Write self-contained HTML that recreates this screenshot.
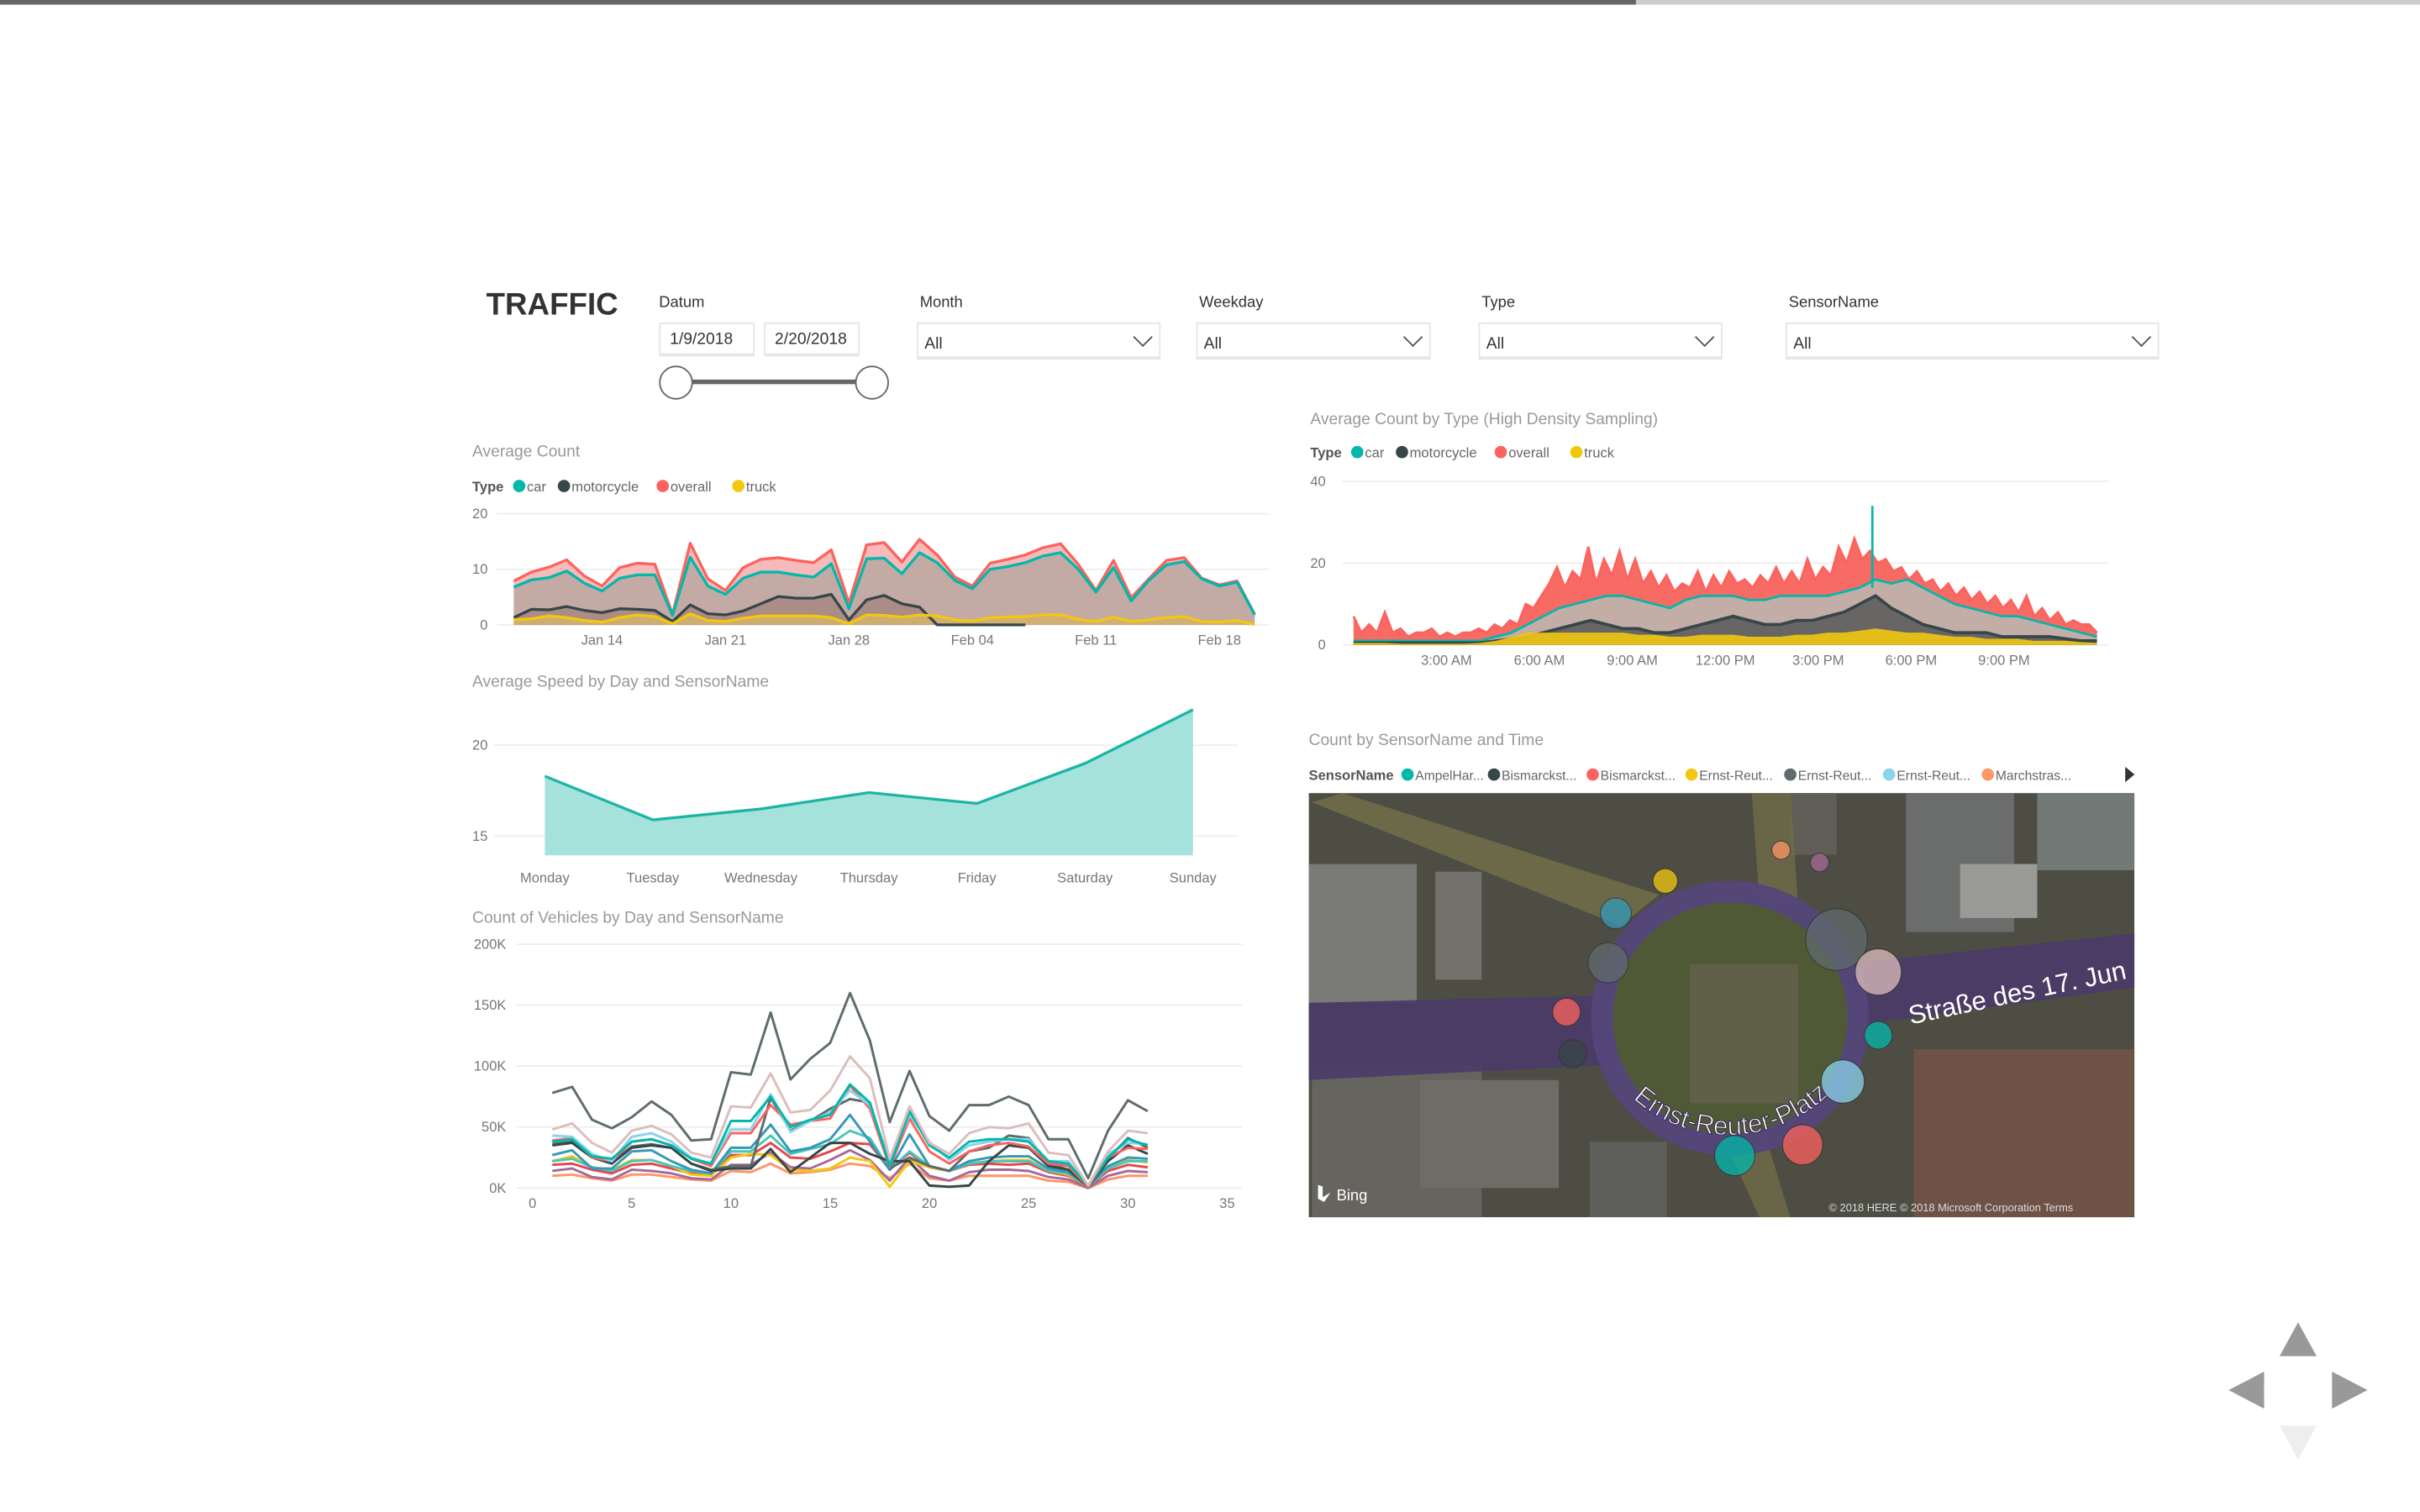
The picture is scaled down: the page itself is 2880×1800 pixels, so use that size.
<!DOCTYPE html>
<html><head><meta charset="utf-8">
<style>
html,body{margin:0;padding:0;width:2880px;height:1800px;overflow:hidden;background:#fff;}
#page{position:absolute;left:0;top:0;width:1568px;height:980px;transform:scale(1.836735);transform-origin:0 0;font-family:"Liberation Sans",sans-serif;}
.abs{position:absolute;}
.lbl{font-size:10px;color:#333;}
.box{position:absolute;border:1px solid #e6e6e6;border-bottom:2px solid #e6e6e6;background:#fff;font-size:10.5px;color:#333;box-sizing:border-box;}
.chev{position:absolute;right:6px;top:4px;width:8px;height:8px;border-right:1px solid #555;border-bottom:1px solid #555;transform:rotate(45deg);}
</style></head>
<body>
<div id="page">
 <div class="abs" style="left:0;top:0;width:1060px;height:3px;background:#666"></div>
 <div class="abs" style="left:1060px;top:0;width:508px;height:3px;background:#ccc"></div>

 <div class="abs" style="left:315px;top:187px;font-size:20px;font-weight:bold;color:#333">TRAFFIC</div>

 <div class="abs lbl" style="left:427px;top:191px">Datum</div>
 <div class="box" style="left:427px;top:209px;width:62px;height:22px;padding:4px 0 0 6px">1/9/2018</div>
 <div class="box" style="left:495px;top:209px;width:62px;height:22px;padding:4px 0 0 6px">2/20/2018</div>
 <div class="abs" style="left:438px;top:246px;width:127px;height:3px;background:#666"></div>
 <div class="abs" style="left:427px;top:237px;width:20px;height:20px;border:1px solid #666;border-radius:50%;background:#fff"></div>
 <div class="abs" style="left:554px;top:237px;width:20px;height:20px;border:1px solid #666;border-radius:50%;background:#fff"></div>

 <div class="abs lbl" style="left:596px;top:191px">Month</div>
 <div class="box" style="left:594px;top:209px;width:158px;height:24px;padding:7px 0 0 4px">All<span class="chev"></span></div>
 <div class="abs lbl" style="left:777px;top:191px">Weekday</div>
 <div class="box" style="left:775px;top:209px;width:152px;height:24px;padding:7px 0 0 4px">All<span class="chev"></span></div>
 <div class="abs lbl" style="left:960px;top:191px">Type</div>
 <div class="box" style="left:958px;top:209px;width:158px;height:24px;padding:7px 0 0 4px">All<span class="chev"></span></div>
 <div class="abs lbl" style="left:1159px;top:191px">SensorName</div>
 <div class="box" style="left:1157px;top:209px;width:242px;height:24px;padding:7px 0 0 4px">All<span class="chev"></span></div>

 <svg id="main" class="abs" style="left:0;top:0" width="1568" height="980" viewBox="0 0 1568 980" font-family="Liberation Sans, sans-serif"></svg>
</div>
<script>
// ---- Average Count (daily, Jan 9 .. Feb 20) ----
const avgDates = ['Jan 14','Jan 21','Jan 28','Feb 04','Feb 11','Feb 18'];
const avgDateIdx = [5,12,19,26,33,40];
const avgOverall = [7.9,9.5,10.4,11.7,8.8,7.0,10.3,11.1,10.9,1.9,14.7,8.3,6.2,10.3,11.8,12.1,11.6,11.2,13.5,3.9,14.4,14.8,11.3,15.4,12.6,8.6,7.0,11.1,11.8,12.6,13.9,14.6,10.9,6.2,11.6,4.9,8.3,11.6,12.1,8.4,7.2,7.9,1.9];
const avgCar = [6.8,8.1,8.5,9.7,7.5,6.1,8.4,9.0,9.0,1.7,12.2,7.0,5.5,8.4,9.5,9.5,9.0,8.6,11.0,2.9,11.9,12.0,9.2,13.0,11.2,8.0,6.5,10.0,10.5,11.2,12.4,13.0,10.0,5.9,10.3,4.3,8.0,10.8,11.4,8.3,7.0,7.7,1.8];
const avgMoto = [1.3,2.8,2.7,3.3,2.6,2.2,2.9,2.8,2.6,0.6,3.6,2.0,1.8,2.5,3.8,5.1,4.8,4.8,5.5,0.9,4.5,5.3,3.8,3.2,0,0,0,0,0,0,null,null,null,null,null,null,null,null,null,null,null,null,null];
const avgTruck = [0.9,1.1,1.6,1.3,0.8,0.5,1.3,1.8,1.5,0.2,2.0,0.8,0.6,1.2,1.6,1.6,1.6,1.6,1.3,0.2,1.8,1.7,1.4,1.8,1.6,0.9,0.7,1.3,1.4,1.5,1.8,1.8,1.0,0.6,1.4,0.6,0.9,1.3,1.5,0.6,0.5,0.8,0.1];
const avgTicks = [0,10,20];
// ---- Average Speed ----
const speedDays = ['Monday','Tuesday','Wednesday','Thursday','Friday','Saturday','Sunday'];
const speedValues = [18.3,15.9,16.5,17.4,16.8,19.0,21.95];
const speedTicks = [15,20];
// ---- Count of Vehicles by Day (K) ----
const countTicks = [0,50,100,150,200];
const countXTicks = [0,5,10,15,20,25,30,35];
const countSeriesColors = ['#5F6B6D','#DDBDBD','#01B8AA','#8AD4EB','#FD625E','#374649','#5F6B6D','#3599B8','#4AC5BB','#F2C80F','#E8464A','#A66999','#FE9666'];
const countS1 = [78,83,56,49,58,71,60,39,40,95,93,144,89,106,119,160,121,54,96,59,47,68,68,75,68,40,40,8,47,72,63];
const countS2 = [48,53,37,29,47,51,44,29,25,67,66,94,62,64,80,108,90,24,67,37,28,45,50,49,53,29,27,2,30,47,45];
const countS3 = [38,40,26,24,38,40,35,24,20,55,55,75,50,56,60,85,70,18,63,35,25,38,40,40,38,22,20,2,25,40,35];
const countS4 = [43,42,28,22,42,45,38,25,20,48,48,77,46,55,62,80,68,22,60,38,23,35,38,40,40,22,22,2,28,37,36];
const countS5 = [39,41,25,22,38,40,35,24,18,45,45,68,52,55,57,84,65,17,57,30,20,30,35,37,34,20,18,1,25,33,32];
const countS6 = [35,37,25,20,33,35,33,20,14,16,16,32,13,25,37,37,28,22,22,2,1,2,22,35,33,18,15,1,22,35,28];
const countS7 = [36,38,27,21,34,36,33,20,15,18,18,74,47,55,65,73,70,16,25,18,14,30,33,43,41,20,15,2,24,41,33];
const countS8 = [27,31,16,16,30,31,22,15,12,33,33,52,30,33,40,60,38,15,44,18,14,22,25,26,26,16,13,1,18,25,24];
const countS9 = [22,24,17,14,22,23,18,14,12,30,30,43,28,32,36,47,41,15,30,18,14,20,22,22,22,14,12,1,16,22,22];
const countS10 = [22,26,17,15,23,23,18,11,10,25,28,27,15,14,16,25,22,1,22,17,14,20,22,23,23,14,11,1,16,23,21];
const countS11 = [19,20,15,12,19,20,16,12,10,27,27,37,25,24,30,37,36,15,29,17,14,19,20,19,20,13,10,1,14,19,17];
const countS12 = [14,16,9,7,15,14,12,8,7,19,19,29,17,16,23,31,23,6,25,10,6,13,15,15,14,9,7,0,10,14,13];
const countS13 = [10,11,8,6,11,11,9,7,6,14,13,20,12,13,15,20,18,8,20,8,6,10,10,10,10,6,5,0,7,10,10];
// ---- High Density (by time of day) ----
const hdTimeLabels = ['3:00 AM','6:00 AM','9:00 AM','12:00 PM','3:00 PM','6:00 PM','9:00 PM'];
const hdTimeHours = [3,6,9,12,15,18,21];
const hdTicks = [0,20,40];
const hdOverall = [7,3,5,3,8,3,4,2,3,3,4,2,3,2,3,3,4,3,5,4,6,5,10,9,12,15,19,14,18,16,24,15,21,17,23,16,21,15,18,14,17,13,15,14,18,13,17,14,18,15,16,14,17,15,19,15,18,15,21,16,19,17,24,20,26,21,23,20,21,18,19,16,18,15,16,13,15,12,14,11,13,10,12,9,11,8,12,7,9,6,8,5,6,5,5,3];
const hdCar = [1,1,1,1,1,1,1,1,1,2,3,5,7,9,10,11,12,12,11,10,9,11,12,12,12,11,11,12,12,12,12,13,14,16,15,16,14,12,10,9,8,7,7,6,5,4,3,2];
const hdMoto = [0.5,0.5,0.5,0.5,0.5,0.5,0.5,0.5,0.5,1,1.5,2,3,4,5,6,5,4,4,3,3,4,5,6,7,6,5,5,6,6,7,8,10,12,9,7,5,4,3,3,3,2,2,2,2,1.5,1,1];
const hdTruck = [0.5,0.5,0.5,0.3,0.3,0.3,0.3,0.3,0.5,1,2,3,3,3,3,3,3,3,2.5,2.5,2,2,2.5,2.5,2.5,2,2,2,2.5,2.5,3,3,3.5,4,3.5,3,3,2.5,2,2,1.5,1.5,1.5,1,1,1,0.7,0.5];
const hdCarSpikeHour = [16.75];
const hdCarSpikeValue = [34];
// ---- Map sensors ----
const sensorNames = ['AmpelHar...','Bismarckst...','Bismarckst...','Ernst-Reut...','Ernst-Reut...','Ernst-Reut...','Marchstras...'];
const sensorColors = ['#01B8AA','#374649','#FD625E','#F2C80F','#5F6B6D','#8AD4EB','#FE9666'];

const NS='http://www.w3.org/2000/svg';
const svg=document.getElementById('main');
function mk(tag,attrs,parent){const e=document.createElementNS(NS,tag);for(const k in attrs)e.setAttribute(k,attrs[k]);(parent||svg).appendChild(e);return e;}
function txt(s,attrs,parent){const e=mk('text',attrs,parent);e.textContent=s;return e;}
function linePath(vals,xf,yf){let d='',pen=false;vals.forEach((v,i)=>{if(v===null){pen=false;return;}d+=(pen?'L':'M')+xf(i).toFixed(2)+' '+yf(v).toFixed(2);pen=true;});return d;}
function areaPath(vals,xf,yf,base){let pts=[];vals.forEach((v,i)=>{if(v!==null)pts.push([xf(i),yf(v)]);});if(!pts.length)return '';let d='M'+pts[0][0]+' '+base;pts.forEach(p=>d+='L'+p[0].toFixed(2)+' '+p[1].toFixed(2));d+='L'+pts[pts.length-1][0]+' '+base+'Z';return d;}
function legend(x,y,label,items,colors,nameBase,cw,gap,fs){let t=txt(label,{x:x,y:y+3.5,'font-size':9,'font-weight':'bold',fill:'#555'});
 
 
 let cx=x+label.length*5.6+8;items.forEach((it,i)=>{const c=mk('circle',{cx:cx,cy:y,r:4,fill:colors[i]});
 
 
 const tt=txt(it,{x:cx+5,y:y+3.5,'font-size':fs,fill:'#666'});
 
 
 cx+=it.length*cw+gap;});}
function title(s,x,y,name){const t=txt(s,{x:x,y:y,'font-size':10.5,fill:'#999'});
 
 }

// ===== Average Count chart =====
title('Average Count',306,296,'average-count-title');
legend(306,315,'Type',['car','motorcycle','overall','truck'],['#01B8AA','#374649','#FD625E','#F2C80F'],'average-count',5.0,14,9);
const axX=i=>332.9+i*11.43, axY=v=>405-v*3.6;
avgTicks.forEach(v=>{const g=mk('line',{x1:322,x2:822,y1:axY(v),y2:axY(v),stroke:'#eee'});
 
 
 const t=txt(String(v),{x:316,y:axY(v)+3,'font-size':9,fill:'#777','text-anchor':'end'});
 
 });
avgDates.forEach((s,i)=>{const t=txt(s,{x:axX(avgDateIdx[i]),y:418,'font-size':9,fill:'#777','text-anchor':'middle'});
 
 });
[[avgOverall,'#F4B3B1'],[avgCar,'#BFA8A3'],[avgMoto,'#A88884'],[avgTruck,'#D2B06E']].forEach((s,k)=>{const a=mk('path',{d:areaPath(s[0],axX,axY,405),fill:s[1],opacity:0.9});
 
 });
[[avgOverall,'#FD625E'],[avgCar,'#01B8AA'],[avgMoto,'#374649'],[avgTruck,'#F2C80F']].forEach(s=>{const l=mk('path',{d:linePath(s[0],axX,axY),fill:'none',stroke:s[1],'stroke-width':1.8,'stroke-linejoin':'round'});
 
 });

// ===== Average Speed chart =====
title('Average Speed by Day and SensorName',306,445,'average-speed-title');
const spX=i=>353+i*70, spY=v=>542-(v-15)*11.8;
speedTicks.forEach(v=>{const g=mk('line',{x1:320,x2:802,y1:spY(v),y2:spY(v),stroke:'#eee'});
 
 
 const t=txt(String(v),{x:316,y:spY(v)+3,'font-size':9,fill:'#777','text-anchor':'end'});
 
 });
const spBase=spY(13.95);
const spArea=mk('path',{d:areaPath(speedValues,spX,spY,spBase),fill:'#A5E2DC'});


const spLine=mk('path',{d:linePath(speedValues,spX,spY),fill:'none',stroke:'#1CB5A5','stroke-width':1.8});


speedDays.forEach((d,i)=>{const t=txt(d,{x:spX(i),y:572,'font-size':9,fill:'#777','text-anchor':'middle'});
 
 });

// ===== Count of Vehicles chart =====
title('Count of Vehicles by Day and SensorName',306,598,'vehicle-count-title');
const cX=d=>345+d*12.86, cY=v=>770-v*0.79;
countTicks.forEach(v=>{const g=mk('line',{x1:335,x2:805,y1:cY(v),y2:cY(v),stroke:'#eee'});
 
 
 const t=txt(v+'K',{x:328,y:cY(v)+3,'font-size':9,fill:'#777','text-anchor':'end'});
 
 });
countXTicks.forEach(v=>{const t=txt(String(v),{x:cX(v),y:783,'font-size':9,fill:'#777','text-anchor':'middle'});
 
 });
const countSeries=[countS13,countS12,countS11,countS10,countS9,countS8,countS7,countS6,countS5,countS4,countS3,countS2,countS1];
countSeries.forEach((s,k)=>{const col=countSeriesColors[countSeries.length-1-k];
 const l=mk('path',{d:linePath(s,i=>cX(i+1),cY),fill:'none',stroke:col,'stroke-width':1.6,'stroke-linejoin':'round'});
 
 });

// ===== High density chart =====
title('Average Count by Type (High Density Sampling)',849,275,'high-density-title');
legend(849,293,'Type',['car','motorcycle','overall','truck'],['#01B8AA','#374649','#FD625E','#F2C80F'],'high-density',5.0,14,9);
const hX=h=>877+h*20.07, hY=v=>418-v*2.65;
const hIdx=arr=>i=>hX(i/(arr.length-1)*24);
hdTicks.forEach(v=>{const g=mk('line',{x1:870,x2:1366,y1:hY(v),y2:hY(v),stroke:'#eee'});
 
 
 const t=txt(String(v),{x:859,y:hY(v)+3,'font-size':9,fill:'#777','text-anchor':'end'});
 
 });
hdTimeLabels.forEach((s,i)=>{const t=txt(s,{x:hX(hdTimeHours[i]),y:431,'font-size':9,fill:'#777','text-anchor':'middle'});
 
 });
const hoA=mk('path',{d:areaPath(hdOverall,hIdx(hdOverall),hY,418),fill:'#F86A64'});


const hoL=mk('path',{d:linePath(hdOverall,hIdx(hdOverall),hY),fill:'none',stroke:'#FD625E','stroke-width':1.5});


const hcA=mk('path',{d:areaPath(hdCar,hIdx(hdCar),hY,418),fill:'#C3ADA7'});


const hcL=mk('path',{d:linePath(hdCar,hIdx(hdCar),hY),fill:'none',stroke:'#01B8AA','stroke-width':1.5});


const hmA=mk('path',{d:areaPath(hdMoto,hIdx(hdMoto),hY,418),fill:'#4a4f4f',opacity:0.75});


const hmL=mk('path',{d:linePath(hdMoto,hIdx(hdMoto),hY),fill:'none',stroke:'#374649','stroke-width':2});


const htA=mk('path',{d:areaPath(hdTruck,hIdx(hdTruck),hY,418),fill:'#F2C80F',opacity:0.9});


hdCarSpikeHour.forEach((h,i)=>{const sp=mk('line',{x1:hX(h),x2:hX(h),y1:hY(14),y2:hY(hdCarSpikeValue[i]),stroke:'#01B8AA','stroke-width':1.5});
 
 });

// ===== Map =====
title('Count by SensorName and Time',848,483,'map-title');
legend(848,502,'SensorName',sensorNames,sensorColors,'map',4.0,12,8.5);
const arr=mk('path',{d:'M1377 497 L1383 502 L1377 507 Z',fill:'#333'});


const mapG=mk('g',{});


const defs=mk('defs',{});
const cp=mk('clipPath',{id:'mapclip'},defs);mk('rect',{x:848,y:514,width:535,height:275},cp);
mapG.setAttribute('clip-path','url(#mapclip)');
mk('rect',{x:848,y:514,width:535,height:275,fill:'#4d4d44'},mapG);
[[848,560,70,90,'#7a7a76'],[850,690,110,100,'#66645e'],[920,700,90,70,'#6e6c67'],[930,565,30,70,'#72716c'],[1235,514,70,90,'#6b6d6c'],[1270,560,50,35,'#9a9a97'],[1320,514,63,50,'#727a77'],[1240,680,143,109,'#6e5246'],[1030,740,50,49,'#5e5e5a'],[1160,514,30,40,'#5f5f58']].forEach(b=>{mk('rect',{x:b[0],y:b[1],width:b[2],height:b[3],fill:b[4]},mapG);});
mk('path',{d:'M850 520 L1050 600 L1075 580 L870 514 Z',fill:'#6f6d48',opacity:0.9},mapG);
mk('path',{d:'M1135 514 L1160 514 L1165 585 L1140 585 Z',fill:'#6f6d48',opacity:0.8},mapG);
mk('path',{d:'M848 650 L1045 645 L1048 690 L848 700 Z',fill:'#4a3b68',opacity:0.9},mapG);
mk('path',{d:'M1195 625 L1383 605 L1383 640 L1200 665 Z',fill:'#4a3b68',opacity:0.9},mapG);
mk('path',{d:'M1120 745 L1140 789 L1160 789 L1145 740 Z',fill:'#6f6d48',opacity:0.8},mapG);
mk('ellipse',{cx:1121,cy:660,rx:78,ry:77,fill:'#505936'},mapG);
mk('rect',{x:1095,y:625,width:70,height:90,fill:'#66624f',opacity:0.7},mapG);
mk('ellipse',{cx:1121,cy:660,rx:83,ry:82,fill:'none',stroke:'#54467a','stroke-width':14,opacity:0.95},mapG);
mk('path',{id:'ringpath',d:'M1058 712 A 92 90 0 0 0 1212 650',fill:'none'},mapG);
const rt=mk('text',{'font-size':17,fill:'#fff',stroke:'#3b2d55','stroke-width':0.6},mapG);


const tp=mk('textPath',{href:'#ringpath'},rt);tp.textContent='Ernst-Reuter-Platz';
const st=txt('Straße des 17. Jun',{x:1238,y:664,'font-size':17,fill:'#fff',transform:'rotate(-12 1238 664)'},mapG);


const bubX=[1154,1179,1079,1047,1190,1217,1042,1015,1019,1217,1194,1124,1168];
const bubY=[551,559,571,592,609,630,624,656,683,671,701,749,742];
const bubR=[6,6,8,10,20,15,13,9,9,9,14,13,13];
const bubC=['#FE9666','#A66999','#F2C80F','#3599B8','#5F6B6D','#DDBDBD','#5F6B6D','#FD625E','#374649','#01B8AA','#8AD4EB','#01B8AA','#FD625E'];
bubX.forEach((x,i)=>{const c=mk('circle',{cx:x,cy:bubY[i],r:bubR[i],fill:bubC[i],opacity:0.75,stroke:'#333','stroke-width':0.6},mapG);
 
 });
const bing=txt('Bing',{x:866,y:778,'font-size':10,fill:'#fff'},mapG);


mk('path',{d:'M854 768 L857 769 L857 776 L862 773 L858 779 L854 777 Z',fill:'#fff'},mapG);
const cr=txt('© 2018 HERE © 2018 Microsoft Corporation  Terms',{x:1185,y:785,'font-size':7,fill:'#ddd'},mapG);



// ===== Nav arrows =====
[['M1477 879 L1489 857 L1501 879 Z','#999','nav-up-arrow'],['M1444 901 L1467 889 L1467 913 Z','#999','nav-left-arrow'],['M1534 901 L1511 889 L1511 913 Z','#999','nav-right-arrow'],['M1477 924 L1489 946 L1501 924 Z','#eee','nav-down-arrow']].forEach(a=>{const p=mk('path',{d:a[0],fill:a[1]});
 
 });
</script>
</body></html>
